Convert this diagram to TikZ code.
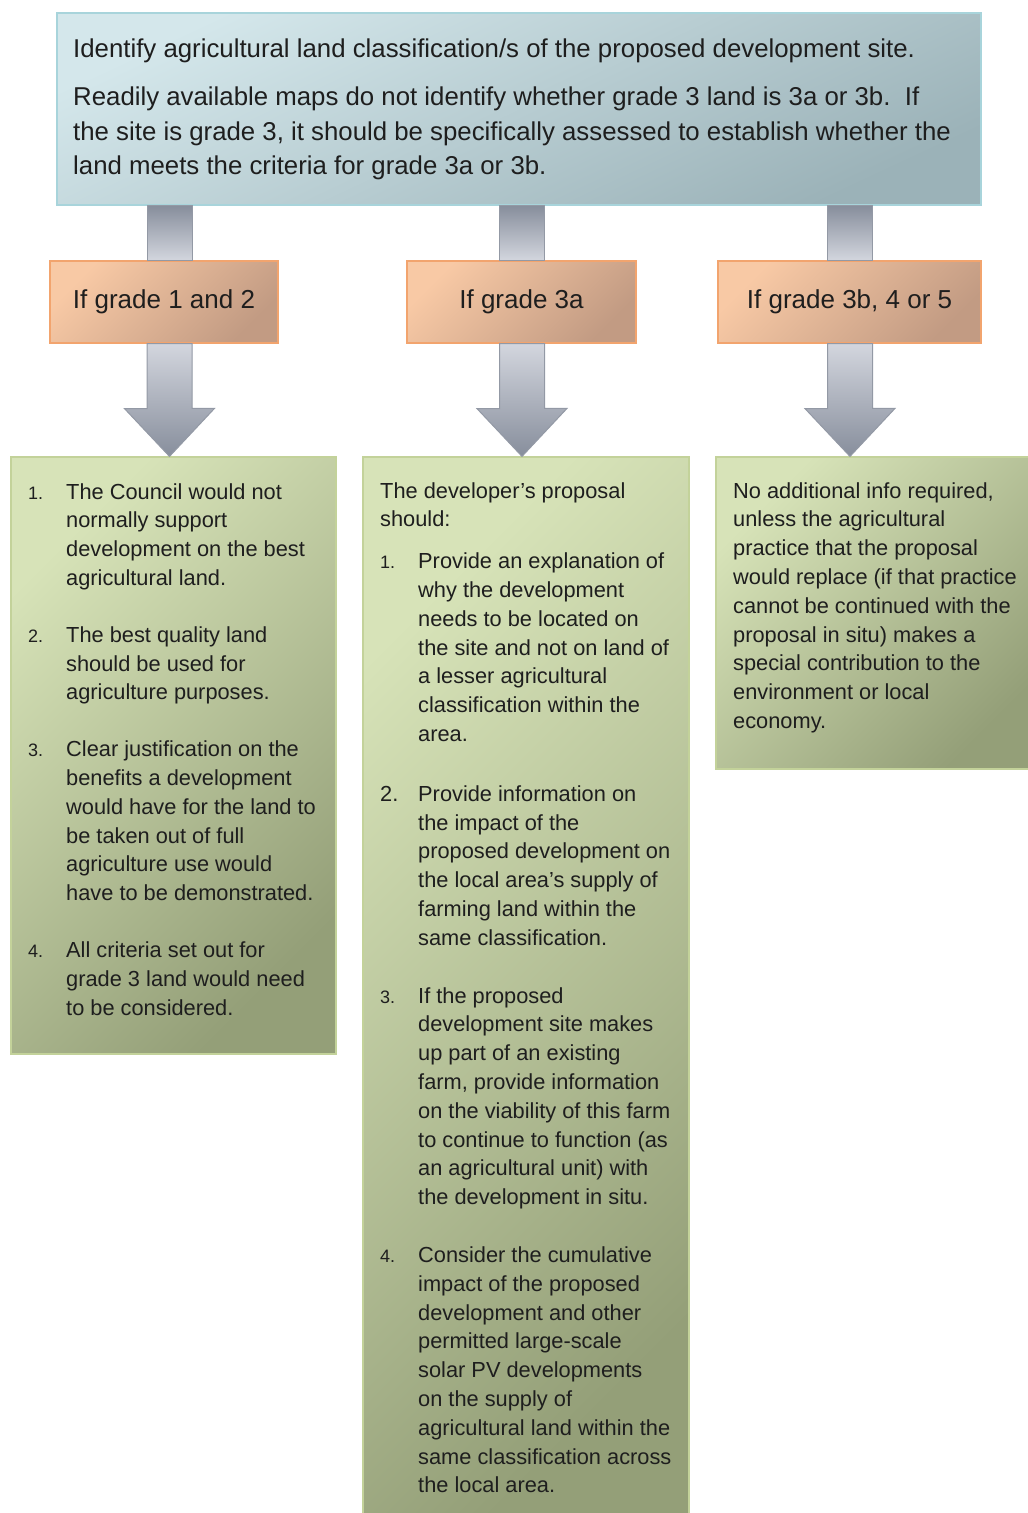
\documentclass[tikz,border=0pt]{standalone}
\usepackage{fontspec}
\setmainfont{Liberation Sans}
\usetikzlibrary{calc}
\definecolor{textcol}{HTML}{1E1E1E}
\definecolor{bluetop}{HTML}{D4E7EB}
\definecolor{bluebot}{HTML}{9BB2B8}
\definecolor{blueedge}{HTML}{A8D4DB}
\definecolor{orangetop}{HTML}{F8C9A5}
\definecolor{orangebot}{HTML}{C29B83}
\definecolor{orangeedge}{HTML}{F2A46E}
\definecolor{greentop}{HTML}{D7E3B8}
\definecolor{greenbot}{HTML}{949F78}
\definecolor{greenedge}{HTML}{C3D29A}
\definecolor{arrowlight}{HTML}{D3D6DE}
\definecolor{arrowdark}{HTML}{878E9C}
\definecolor{arrowedge}{HTML}{9399A5}
\tikzstyle{box}=[inner sep=0pt, line width=1.2pt]
\tikzstyle{topbox}=[box, draw=blueedge, top color=bluetop, bottom color=bluebot, shading angle=25]
\tikzstyle{gradebox}=[box, draw=orangeedge, top color=orangetop, bottom color=orangebot, shading angle=45, minimum height=82pt, text=textcol, font=\fontsize{26}{31}\selectfont]
\tikzstyle{listbox}=[box, draw=greenedge, top color=greentop, bottom color=greenbot, shading angle=45]
\tikzstyle{boxtext}=[inner sep=0pt, anchor=base west, text=textcol]
\tikzstyle{toptext}=[boxtext, font=\fontsize{25.8}{34.5}\selectfont]
\tikzstyle{listtext}=[boxtext, font=\fontsize{21.8}{28.8}\selectfont]
\tikzstyle{stem}=[draw=arrowedge, line width=1pt, top color=arrowdark, bottom color=arrowlight]
\tikzstyle{downarrow}=[draw=arrowedge, line width=1pt, top color=arrowlight, bottom color=arrowdark]
\newcommand{\itemno}[1]{\makebox[38pt][l]{\fontsize{18}{28.8}\selectfont #1}}
\newcommand{\bigitemno}[1]{\makebox[38pt][l]{#1}}

\begin{document}
\begin{tikzpicture}[x=1pt, y=-1pt]
        \path[use as bounding box] (0,0) rectangle (1028,1513);
        \clip (0,0) rectangle (1028,1513);
        % boxes
        \node[topbox, minimum width=924pt, minimum height=192pt] (top) at (519,109) {};
        \node[gradebox, minimum width=228pt] (o1) at (164,302) {If grade 1 and 2};
        \node[gradebox, minimum width=229pt] (o2) at (521.5,302) {If grade 3a};
        \node[gradebox, minimum width=263pt] (o3) at (849.5,302) {If grade 3b, 4 or 5};
        \node[listbox, minimum width=325pt, minimum height=597pt] (g1) at (173.5,755.5) {};
        \node[listbox, minimum width=326pt, minimum height=1068pt] (g2) at (526,991) {};
        \node[listbox, minimum width=324pt, minimum height=312pt] (g3) at (878,613) {};
        \coordinate (c1) at (169.5,0);
        \coordinate (c2) at (522,0);
        \coordinate (c3) at (850,0);
        % arrows
        \shadedraw[stem] ($(c1 |- top.south)+(-22.5,0)$) rectangle ($(c1 |- o1.north)+(22.5,0)$);
        \shadedraw[stem] ($(c2 |- top.south)+(-22.5,0)$) rectangle ($(c2 |- o2.north)+(22.5,0)$);
        \shadedraw[stem] ($(c3 |- top.south)+(-22.5,0)$) rectangle ($(c3 |- o3.north)+(22.5,0)$);
        \shadedraw[downarrow] ($(c1 |- o1.south)+(-22.5,0)$) -- ++(0,65) -- ++(-22.5,0) -- (c1 |- g1.north) -- ++(45,-48) -- ++(-22.5,0) -- ($(c1 |- o1.south)+(22.5,0)$) -- cycle;
        \shadedraw[downarrow] ($(c2 |- o2.south)+(-22.5,0)$) -- ++(0,65) -- ++(-22.5,0) -- (c2 |- g2.north) -- ++(45,-48) -- ++(-22.5,0) -- ($(c2 |- o2.south)+(22.5,0)$) -- cycle;
        \shadedraw[downarrow] ($(c3 |- o3.south)+(-22.5,0)$) -- ++(0,65) -- ++(-22.5,0) -- (c3 |- g3.north) -- ++(45,-48) -- ++(-22.5,0) -- ($(c3 |- o3.south)+(22.5,0)$) -- cycle;
        % texts
        \node[toptext] (intro) at (73,57) {\begin{tabular}[t]{@{}l@{}}
            Identify agricultural land classification/s of the proposed development site.\\[14pt]
            Readily available maps do not identify whether grade 3 land is 3a or 3b.\ \ If\\
            the site is grade 3, it should be specifically assessed to establish whether the\\
            land meets the criteria for grade 3a or 3b.
        \end{tabular}};
        \node[listtext] (t1) at (28,499) {\begin{tabular}[t]{@{}l@{}l@{}}
            \itemno{1.} & The Council would not\\
            & normally support\\
            & development on the best\\
            & agricultural land.\\[28pt]
            \itemno{2.} & The best quality land\\
            & should be used for\\
            & agriculture purposes.\\[28pt]
            \itemno{3.} & Clear justification on the\\
            & benefits a development\\
            & would have for the land to\\
            & be taken out of full\\
            & agriculture use would\\
            & have to be demonstrated.\\[28pt]
            \itemno{4.} & All criteria set out for\\
            & grade 3 land would need\\
            & to be considered.
        \end{tabular}};
        \node[listtext] (t2) at (380,498) {\begin{tabular}[t]{@{}l@{}l@{}}
            \multicolumn{2}{@{}l@{}}{The developer's proposal}\\
            \multicolumn{2}{@{}l@{}}{should:}\\[13pt]
            \itemno{1.} & Provide an explanation of\\
            & why the development\\
            & needs to be located on\\
            & the site and not on land of\\
            & a lesser agricultural\\
            & classification within the\\
            & area.\\[31pt]
            \bigitemno{2.} & Provide information on\\
            & the impact of the\\
            & proposed development on\\
            & the local area's supply of\\
            & farming land within the\\
            & same classification.\\[29pt]
            \itemno{3.} & If the proposed\\
            & development site makes\\
            & up part of an existing\\
            & farm, provide information\\
            & on the viability of this farm\\
            & to continue to function (as\\
            & an agricultural unit) with\\
            & the development in situ.\\[29pt]
            \itemno{4.} & Consider the cumulative\\
            & impact of the proposed\\
            & development and other\\
            & permitted large-scale\\
            & solar PV developments\\
            & on the supply of\\
            & agricultural land within the\\
            & same classification across\\
            & the local area.
        \end{tabular}};
        \node[listtext] (t3) at (733,498) {\begin{tabular}[t]{@{}l@{}}
            No additional info required,\\
            unless the agricultural\\
            practice that the proposal\\
            would replace (if that practice\\
            cannot be continued with the\\
            proposal in situ) makes a\\
            special contribution to the\\
            environment or local\\
            economy.
        \end{tabular}};
    \end{tikzpicture}
\end{document}
